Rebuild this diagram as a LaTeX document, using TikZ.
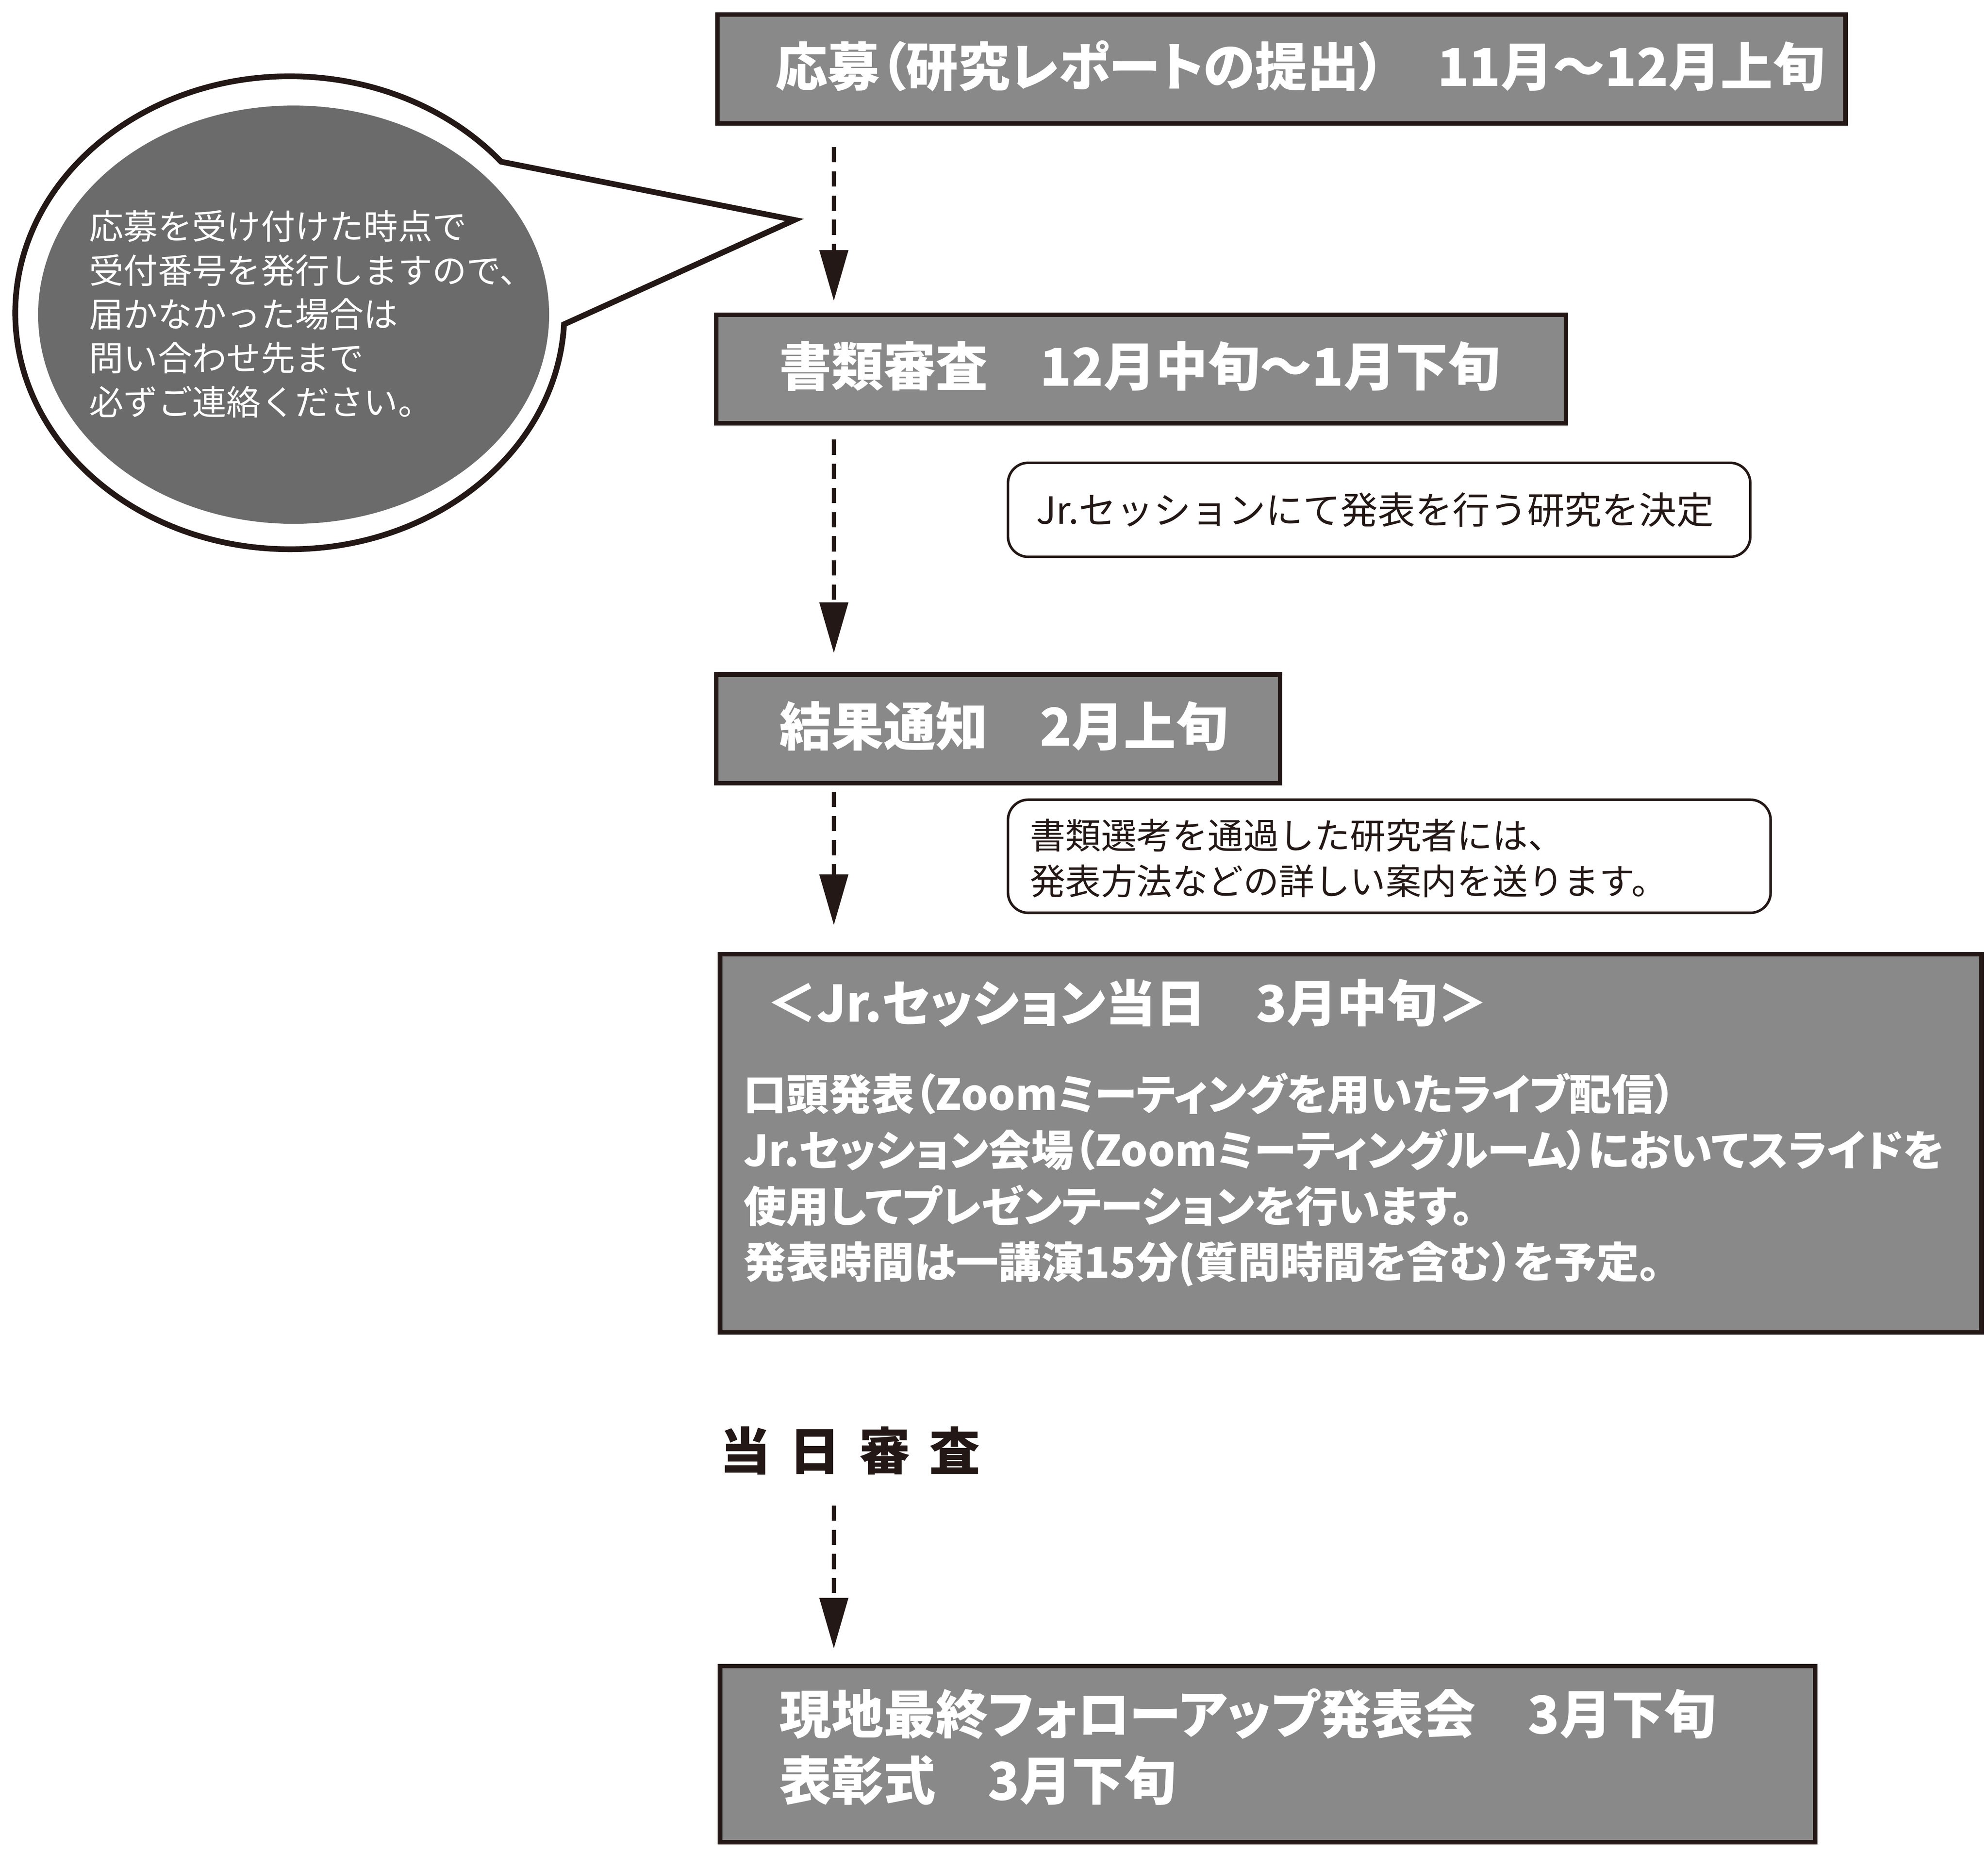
\documentclass[tikz,border=0pt]{standalone}
\usepackage{fontspec}
\usetikzlibrary{arrows.meta,calc}
\newfontfamily\jpb{Noto Sans CJK JP}[RawFeature=+palt]
\newfontfamily\jpr{Noto Sans CJK JP}
\definecolor{ink}{HTML}{231815}
\definecolor{boxgray}{HTML}{898989}
\definecolor{bubblegray}{HTML}{6B6B6B}
\begin{document}
\begin{tikzpicture}[x=1pt,y=-1pt,
  stage/.style={draw=ink,line width=3.5pt,fill=boxgray,inner sep=0pt,anchor=north west},
  stagetext/.style={text=white,anchor=west,inner sep=0pt,align=left,font=\jpb\bfseries\fontsize{41}{52}\selectfont},
  bodytext/.style={text=white,anchor=west,inner sep=0pt,align=left,font=\jpb\bfseries\fontsize{33.5}{44}\selectfont},
  note/.style={draw=ink,line width=2pt,fill=white,rounded corners=16pt,inner sep=0pt},
  notetext/.style={text=ink,anchor=west,inner sep=0pt,align=left,font=\jpr\fontsize{28}{36}\selectfont},
  flow/.style={draw=ink,line width=3.5pt,dash pattern=on 12pt off 7pt,-{Triangle[width=22pt,length=40pt]}},
]
\useasboundingbox[fill=white] (0,0) rectangle (1564,1456.4);

% speech bubble
\coordinate (bc) at (228,246);
\draw[draw=ink,fill=white,line width=4.5pt,line join=miter]
  ($(bc)+(2.8:216 and 186)$) arc[start angle=2.8,end angle=320.3,x radius=216,y radius=186]
  -- (625,173) -- cycle;
\fill[bubblegray] (231,247.5) ellipse [x radius=201,y radius=164.5];
\node[text=white,anchor=west,inner sep=0pt,align=left,font=\jpr\fontsize{27}{34.5}\selectfont] (bt) at (70,247)
  {応募を受け付けた時点で\\受付番号を発行しますので、\\届かなかった場合は\\問い合わせ先まで\\必ずご連絡ください。};

% stage boxes
\node[stage,minimum width=887.5pt,minimum height=85.5pt] (b1) at (562.75,9.75) {};
\node[stagetext] (t1) at (610,52) {応募（研究レポートの提出）　11月～12月上旬};
\node[stage,minimum width=668.5pt,minimum height=85.5pt] (b2) at (561.75,245.75) {};
\node[stagetext] (t2) at (613,288) {書類審査　12月中旬～1月下旬};
\node[stage,minimum width=443.5pt,minimum height=85.5pt] (b3) at (561.75,528.75) {};
\node[stagetext] (t3) at (613,571) {結果通知　2月上旬};
\node[stage,minimum width=992.5pt,minimum height=297.5pt] (b4) at (564.75,748.75) {};
\node[stagetext,font=\jpb\bfseries\fontsize{39.5}{48}\selectfont] (t4) at (603,789) {＜Jr.セッション当日　3月中旬＞};
\node[bodytext] (t4b) at (585,928) {口頭発表（Zoomミーティングを用いたライブ配信）\\Jr.セッション会場（Zoomミーティングルーム）においてスライドを\\使用してプレゼンテーションを行います。\\発表時間は一講演15分(質問時間を含む）を予定。};
\node[stage,minimum width=861.5pt,minimum height=138.5pt] (b5) at (564.75,1308.75) {};
\node[stagetext] (t5) at (613,1374) {現地最終フォローアップ発表会　3月下旬\\表彰式　3月下旬};

% notes
\node[note,minimum width=584pt,minimum height=74pt] (n1) at (1085,401) {};
\node[notetext,font=\jpr\fontsize{29.4}{36}\selectfont] (n1t) at (815,401) {Jr.セッションにて発表を行う研究を決定};
\node[note,minimum width=600pt,minimum height=89pt] (n2) at (1093,673.5) {};
\node[notetext] (n2t) at (810,675) {書類選考を通過した研究者には、\\発表方法などの詳しい案内を送ります。};

% judging label
\node[font=\jpb\bfseries\fontsize{40}{48}\selectfont,text=ink,anchor=west,inner sep=0pt] (judge) at (566,1141) {当\hspace{15pt}日\hspace{15pt}審\hspace{15pt}査};

% connectors
\coordinate (spine) at (656,0);
\draw[flow,shorten <=17pt,shorten >=9pt] (b1.south -| spine) -- (b2.north -| spine);
\draw[flow,shorten <=11pt,shorten >=15pt] (b2.south -| spine) -- (b3.north -| spine);
\draw[flow,shorten <=5pt,shorten >=21pt] (b3.south -| spine) -- (b4.north -| spine);
\draw[flow,shorten <=24pt,shorten >=12pt] (judge.south -| spine) -- (b5.north -| spine);
\end{tikzpicture}
\end{document}
